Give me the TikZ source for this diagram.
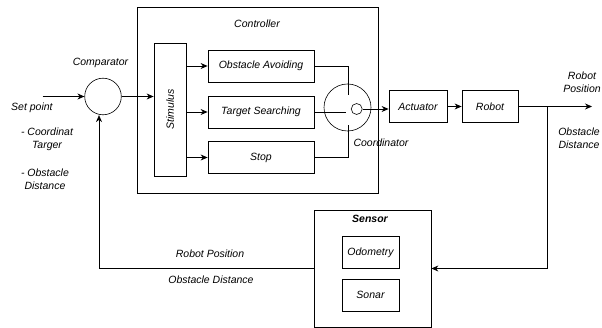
\documentclass[tikz,border=0pt]{standalone}
\usepackage{fontspec}
\setmainfont{Liberation Sans}
\usetikzlibrary{arrows.meta,calc}
\begin{document}
\begin{tikzpicture}[x=1pt,y=-1pt,
  every node/.style={font=\fontsize{10.5}{13}\selectfont\itshape, inner sep=0pt},
  box/.style={draw, line width=0.8pt},
  circ/.style={draw, circle, line width=0.6pt},
  lbl/.style={align=center},
  arr/.style={line width=0.8pt, -{Stealth[length=7pt,width=6pt]}},
  ln/.style={line width=0.8pt}]
\useasboundingbox (0,0) rectangle (602,328);
% boxes
\node (ctrl) [box, minimum width=241pt, minimum height=186pt] at (257.5,100) {};
\node (ctrltxt) at (257,24) {Controller};
\node (stim) [box, minimum width=32pt, minimum height=133pt] at (170,109.5) {};
\node (stimtxt) [rotate=90] at (170,109.5) {Stimulus};
\node (oa) [box, minimum width=106pt, minimum height=32pt] at (261,66) {Obstacle Avoiding};
\node (ts) [box, minimum width=106pt, minimum height=32pt] at (261,112) {Target Searching};
\node (stop) [box, minimum width=106pt, minimum height=31.5pt] at (261,157.5) {Stop};
\node (comp) [circ, minimum size=36.6pt] at (103,96.5) {};
\node (comptxt) at (100.5,63) {Comparator};
\node (coord) [circ, minimum size=47pt] at (347.5,107.5) {};
\node (sc) [circ, minimum size=11pt] at (356.7,109) {};
\node (coordtxt) at (381,142.7) {Coordinator};
\node (act) [box, minimum width=58pt, minimum height=32pt] at (418,106.5) {Actuator};
\node (robot) [box, minimum width=56pt, minimum height=32pt] at (490,106.5) {Robot};
\node (sensor) [box, minimum width=117pt, minimum height=117pt] at (372.5,268.5) {};
\node (sensortxt) [font=\fontsize{10.5}{13}\selectfont\itshape\bfseries] at (370,219.3) {Sensor};
\node (odo) [box, minimum width=57pt, minimum height=31.5pt] at (370.5,252.5) {Odometry};
\node (sonar) [box, minimum width=57pt, minimum height=32pt] at (370.5,295) {Sonar};
% texts
\node (sp) [anchor=west] at (11,108) {Set point};
\node (ct) [lbl] at (47,139.5) {- Coordinat\\Targer};
\node (od) [lbl] at (45,179) {- Obstacle\\Distance};
\node (rp) [lbl] at (582,82) {Robot\\Position};
\node (odr) [lbl] at (579,138) {Obstacle\\Distance};
\node (fbrp) at (210,253.3) {Robot Position};
\node (fbod) at (211,280) {Obstacle Distance};
% coordinates
\coordinate (spin) at (42.5,96.5);
\coordinate (fb) at (547,106.5);
\coordinate (out) at (592,106.5);
\coordinate (ctop) at (348.3,95);
\coordinate (cmid) at (346,112);
\coordinate (cbot) at (348.3,125);
% connectors
\draw[arr] (spin) -- (comp.west);
\draw[arr] (comp.east) -- (comp.east -| stim.west);
\draw[arr] (stim.east |- oa.west) -- (oa.west);
\draw[arr] (stim.east |- ts.west) -- (ts.west);
\draw[arr] (stim.east |- stop.west) -- (stop.west);
\draw[ln] (oa.east) -| (ctop);
\draw[ln] (ts.east) -- (cmid);
\draw[ln] (stop.east) -| (cbot);
\draw[arr] (sc.east) -- (sc.east -| act.west);
\draw[arr] (act.east) -- (robot.west);
\draw[arr] (robot.east) -- (out);
\draw[arr] (fb) |- (sensor.east);
\draw[arr] (sensor.west) -| ([xshift=-4pt]comp.south);
\end{tikzpicture}
\end{document}
